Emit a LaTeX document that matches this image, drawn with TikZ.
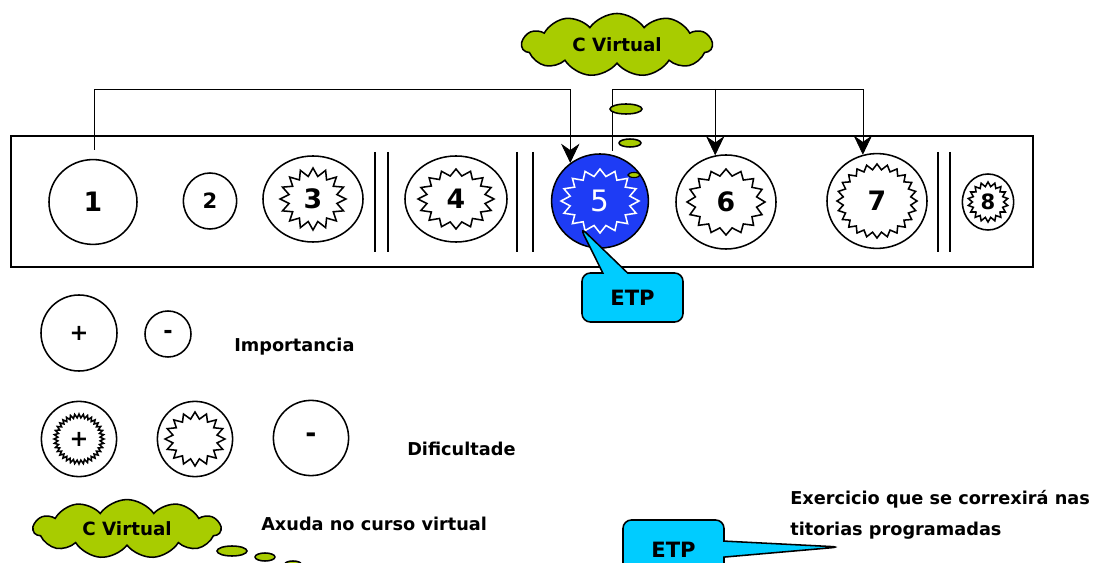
\documentclass[tikz,border=0pt]{standalone}
\usepackage{fontspec}
\setmainfont{DejaVu Sans}
\usetikzlibrary{arrows.meta,calc,shapes.geometric,shapes.symbols,shapes.callouts}

% estrela: #1 centro, #2 rx, #3 ry, #4 raio interior, #5 puntas, #6 estilo
\newcommand{\estrela}[6]{%
  \draw[#6] ($(#1)+(90:#2 and #3)$)
    \foreach \k in {1,...,#5}{
      -- ($(#1)+({90+(2*\k-1)*180/#5}:{#4*#2} and {#4*#3})$)
      -- ($(#1)+({90+\k*360/#5}:#2 and #3)$)
    } -- cycle;
}

\begin{document}
\begin{tikzpicture}[x=0.025cm, y=-0.025cm,
    >={Stealth[length=0.48cm, width=0.46cm, inset=0.16cm]},
    circ/.style={ellipse, draw, line width=1.1pt, inner sep=0pt, font=\fontsize{19}{19}\selectfont\bfseries},
    circp/.style={circ, font=\fontsize{15}{15}\selectfont\bfseries},
    sinal/.style={circ, font=\fontsize{16}{16}\selectfont\bfseries},
    pico/.style={line width=1.1pt, line join=miter},
    etiq/.style={inner sep=0pt, font=\fontsize{12.6}{14}\selectfont\bfseries},
    nube/.style={cloud, cloud puffs=11, cloud puff arc=110, aspect=3, draw, line width=1.1pt,
                 fill=lima, inner sep=0pt, font=\fontsize{13}{13}\selectfont\bfseries},
    burb/.style={draw, line width=1.1pt, fill=lima},
    chamada/.style={rectangle callout, draw, line width=1.1pt, fill=ciano, rounded corners=6pt,
                    callout pointer width=0.62cm, inner sep=0pt,
                    font=\fontsize{15}{15}\selectfont\bfseries},
    liga/.style={line width=0.5pt, black},
    barra/.style={line width=1.1pt}]

    % ----------- cores -----------
    \definecolor{lima}{RGB}{168,204,0}
    \definecolor{azul}{RGB}{30,60,245}
    \definecolor{ciano}{RGB}{0,204,255}

    \useasboundingbox (0,0) rectangle (1106,563);

    % =====================================
    %            caixa das sesions
    % =====================================
    \draw[line width=1.4pt] (11,136) rectangle (1033,267);

    \node[circ, minimum width=2.2cm, minimum height=2.12cm] (c1) at (93,202) {1};
    \node[circp, minimum width=1.33cm, minimum height=1.4cm] (c2) at (210,201) {2};
    \node[circ, minimum width=2.5cm, minimum height=2.15cm] (c3) at (313,199) {3};
    \node[circ, minimum width=2.55cm, minimum height=2.15cm] (c4) at (456,199) {4};
    \node[circ, minimum width=2.42cm, minimum height=2.35cm, fill=azul, text=white,
          font=\fontsize{21}{21}\selectfont] (c5) at (600,201) {5};
    \node[circ, minimum width=2.5cm, minimum height=2.35cm] (c6) at (726,202) {6};
    \node[circ, minimum width=2.5cm, minimum height=2.37cm] (c7) at (877,201) {7};
    \node[circp, minimum width=1.28cm, minimum height=1.4cm] (c8) at (988,202) {8};

    % estrelas
    \estrela{c3}{33}{31}{0.74}{16}{pico}
    \estrela{c4}{38}{30}{0.78}{16}{pico}
    \estrela{c5}{39}{32}{0.78}{16}{pico, white}
    \estrela{c6}{39}{33}{0.8}{16}{pico}
    \estrela{c7}{40}{37}{0.85}{24}{pico}
    \estrela{c8}{20}{20}{0.78}{18}{pico}

    % separadores dobres
    \foreach \xa/\xb in {375/388, 517/533, 938/950}{
        \draw[barra] (\xa,152) -- (\xa,252);
        \draw[barra] (\xb,152) -- (\xb,252);
    }

    % ligazons
    \coordinate (bus) at (0,89);
    \coordinate (s1) at (94,150);
    \coordinate (s2) at (612,151);
    \draw[liga, ->] (s1) -- (s1 |- bus) -| (c5.128);
    \draw[liga, ->] (s2) -- (s2 |- bus) -| (c7.107);
    \draw[liga, ->] (c6.103 |- bus) -- (c6.103);

    % nube superior
    \node[nube, minimum width=4.75cm, minimum height=1.575cm] (nube1) at (617,45) {C Virtual};
    \draw[burb] (626,109) ellipse [x radius=16, y radius=5];
    \draw[burb] (630,143) ellipse [x radius=11, y radius=4];
    \draw[burb, line width=0.8pt] (634,175) ellipse [x radius=6, y radius=2.5];

    % chamada ETP
    \coordinate (p5) at ($(c5)+(-20,26)$);
    \node[chamada, minimum width=2.525cm, minimum height=1.225cm,
          callout absolute pointer={(p5)}] (etp1) at (632.5,297.5) {\raisebox{-4pt}{ETP}};

    % =====================================
    %            lenda
    % =====================================
    \node[sinal, minimum size=1.9cm] (lp) at (79,333) {+};
    \node[sinal, minimum size=1.15cm] (lm) at (168,334) {-};
    \node[etiq, anchor=west] (limp) at (234,347) {Importancia};

    \node[sinal, minimum size=1.88cm] (d1) at (79,439) {+};
    \estrela{d1}{25}{25}{0.85}{36}{pico}
    \node[sinal, minimum size=1.88cm] (d2) at (195,439) {};
    \estrela{d2}{30}{27}{0.75}{16}{pico}
    \node[sinal, minimum size=1.88cm, font=\fontsize{19}{19}\selectfont\bfseries] (d3) at (311,438) {-};
    \node[etiq, anchor=west] (ldif) at (407,449) {Dificultade};

    % nube inferior
    \node[nube, minimum width=4.675cm, minimum height=1.425cm] (nube2) at (127,529) {C Virtual};
    \draw[burb] (232,551) ellipse [x radius=15, y radius=5];
    \draw[burb] (265,557) ellipse [x radius=10, y radius=4];
    \draw[burb] (293,564) ellipse [x radius=8, y radius=3];
    \node[etiq, anchor=west] (laxu) at (261,524) {Axuda no curso virtual};

    % ETP inferior
    \coordinate (p9) at (840,547);
    \node[chamada, minimum width=2.525cm, minimum height=1.5cm, callout pointer width=0.4cm,
          callout absolute pointer={(p9)}] (etp2) at (673.5,550) {ETP};
    \node[etiq, anchor=north west, align=left, font=\fontsize{12.6}{22}\selectfont\bfseries]
        (lexe) at (790,490) {Exercicio que se correxirá nas\\titorias programadas};

\end{tikzpicture}
\end{document}
